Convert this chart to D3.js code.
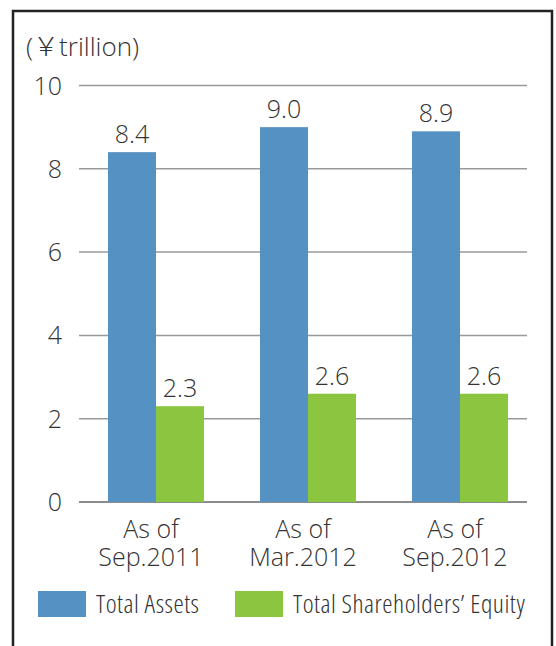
<!DOCTYPE html>
<html>
<head>
<meta charset="utf-8">
<script src="https://cdn.jsdelivr.net/npm/d3@7"></script>
<style>
  body { margin: 0; background: #fff; }
  text { font-family: "Open Sans", "Noto Sans", "Noto Sans CJK JP", sans-serif; font-weight: 300; fill: #333; }
  .legend text { font-stretch: 75%; letter-spacing: 0.5px; }
</style>
</head>
<body>
<script>
var categories = [['As of', 'Sep.2011'], ['As of', 'Mar.2012'], ['As of', 'Sep.2012']];
var totalAssets = [8.4, 9.0, 8.9];
var shareholdersEquity = [2.3, 2.6, 2.6];
var seriesNames = ['Total Assets', 'Total Shareholders\u2019 Equity'];
var seriesColors = ['#5591c3', '#8cc540'];
var yTicks = [0, 2, 4, 6, 8, 10];
var unitLabel = '(\uffe5trillion)';

var svg = d3.select('body').append('svg').attr('width', 556).attr('height', 646);

// frame, open at the bottom
svg.append('path')
    .attr('d', 'M13,646 V11 H552 V646')
    .attr('fill', 'none')
    .attr('stroke', '#222')
    .attr('stroke-width', 2.5);

var y = d3.scaleLinear().domain([0, 10]).range([502, 85.5]);
var x = d3.scalePoint().domain(d3.range(categories.length)).range([156, 460]);
var barW = 48;

svg.append('text')
    .attr('x', 26)
    .attr('y', 56)
    .attr('font-size', 26)
    .text(unitLabel);

svg.selectAll('.grid')
    .data(yTicks)
    .enter()
    .append('line')
    .attr('x1', 79)
    .attr('x2', 527)
    .attr('y1', function(d) { return y(d); })
    .attr('y2', function(d) { return y(d); })
    .attr('stroke', function(d) { return d === 0 ? '#666' : '#999'; })
    .attr('stroke-width', 1.5);

svg.selectAll('.ytick')
    .data(yTicks)
    .enter()
    .append('text')
    .attr('x', 62)
    .attr('y', function(d) { return y(d) + 9; })
    .attr('text-anchor', 'end')
    .attr('font-size', 25)
    .text(function(d) { return d; });

var series = [totalAssets, shareholdersEquity];
series.forEach(function(vals, s) {
    var g = svg.append('g');
    g.selectAll('rect')
        .data(vals)
        .enter()
        .append('rect')
        .attr('x', function(d, i) { return x(i) - barW + s * barW; })
        .attr('y', function(d) { return y(d); })
        .attr('width', barW)
        .attr('height', function(d) { return y(0) - y(d); })
        .attr('fill', seriesColors[s]);
    g.selectAll('text')
        .data(vals)
        .enter()
        .append('text')
        .attr('x', function(d, i) { return x(i) - barW / 2 + s * barW; })
        .attr('y', function(d) { return y(d) - 9; })
        .attr('text-anchor', 'middle')
        .attr('font-size', 25)
        .text(function(d) { return d.toFixed(1); });
});

[0, 1].forEach(function(line) {
    svg.selectAll('.cat' + line)
        .data(categories)
        .enter()
        .append('text')
        .attr('x', function(d, i) { return x(i) - 5; })
        .attr('y', 538 + line * 28)
        .attr('text-anchor', 'middle')
        .attr('font-size', 25)
        .text(function(d) { return d[line]; });
});

var legendX = [38, 235];
var legend = svg.selectAll('.legend')
    .data(seriesNames)
    .enter()
    .append('g')
    .attr('class', 'legend')
    .attr('transform', function(d, i) { return 'translate(' + legendX[i] + ',591)'; });
legend.append('rect')
    .attr('width', 48)
    .attr('height', 26)
    .attr('fill', function(d, i) { return seriesColors[i]; });
legend.append('text')
    .attr('x', 58)
    .attr('y', 22)
    .attr('font-size', 26)
    .text(function(d) { return d; });
</script>
</body>
</html>
